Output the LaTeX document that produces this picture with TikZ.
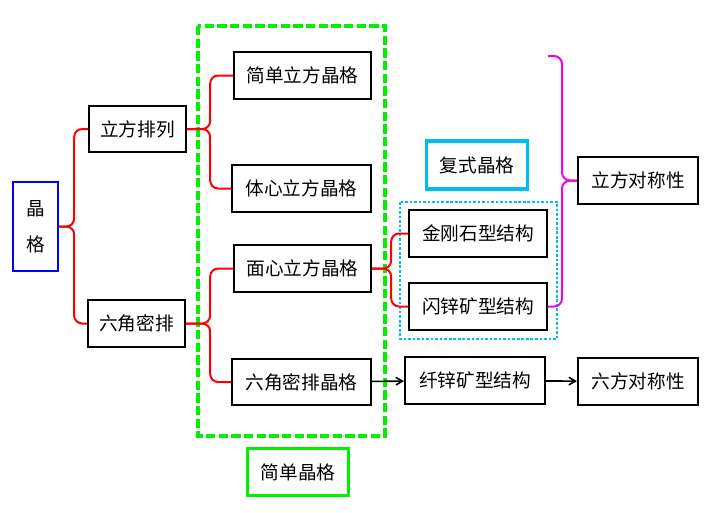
\documentclass[tikz,border=0pt]{standalone}
\usepackage{fontspec}
\setmainfont{Noto Sans CJK SC}
\usetikzlibrary{arrows}
\definecolor{cyanbox}{RGB}{0,190,240}
\definecolor{greenbox}{RGB}{0,240,0}
\definecolor{magline}{RGB}{240,0,240}

\tikzset{
  box/.style={draw, line width=1.5pt, minimum height=35pt, inner sep=0pt, font=\fontsize{14}{17}\selectfont},
  brace/.style={draw=red, line width=1.5pt, rounded corners=6pt},
  magbrace/.style={draw=magline, line width=1.5pt, rounded corners=6pt},
  link/.style={->, >=angle 60, line width=1.2pt},
}

\begin{document}
\begin{tikzpicture}[x=0.75pt,y=-0.75pt]
  \useasboundingbox (0,0) rectangle (712,512);

  % frames
  \draw[greenbox, line width=2.6pt, dash pattern=on 7pt off 2.5pt] (198,26) rectangle (385,436);
  \draw[cyanbox, line width=1.9pt, dash pattern=on 2pt off 1.4pt] (400,202) rectangle (557,339);

  \node[box, draw=blue, minimum width=34pt, minimum height=67pt, align=center] (jingge) at (35.5,226.5) {晶\\[10pt]格};
  \node[box, minimum width=73pt] (lifang) at (137.5,129) {立方排列};
  \node[box, minimum width=73pt] (liujiao) at (136.5,323.5) {六角密排};

  \node[box, minimum width=103pt] (jiandan) at (302.5,75.5) {简单立方晶格};
  \node[box, minimum width=104pt] (tixin) at (301.5,188.5) {体心立方晶格};
  \node[box, minimum width=103pt] (mianxin) at (302.5,268.5) {面心立方晶格};
  \node[box, minimum width=104pt] (liujiaojg) at (301.5,382) {六角密排晶格};
  \node[box, draw=greenbox, line width=2.4pt, minimum width=76pt] (jiandanjg) at (298,472) {简单晶格};

  \node[box, draw=cyanbox, line width=2.4pt, minimum width=76pt, minimum height=36pt] (fushi) at (477,165) {复式晶格};
  \node[box, minimum width=103pt] (jingang) at (478,233.5) {金刚石型结构};
  \node[box, minimum width=103pt] (shanxin) at (478,306.5) {闪锌矿型结构};
  \node[box, minimum width=105pt] (xianxin) at (475,380.5) {纤锌矿型结构};

  \node[box, minimum width=90pt] (lifangdc) at (638,180.5) {立方对称性};
  \node[box, minimum width=90pt] (liufangdc) at (638,381.5) {六方对称性};
  \coordinate (magtop) at (548,56);

  % braces
  \draw[brace] (jingge.east) -- ++(15,0) |- (lifang.west);
  \draw[brace] (jingge.east) -- ++(15,0) |- (liujiao.west);
  \draw[brace] (lifang.east) -- ++(23,0) |- (jiandan.west);
  \draw[brace] (lifang.east) -- ++(23,0) |- (tixin.west);
  \draw[brace] (liujiao.east) -- ++(24,0) |- (mianxin.west);
  \draw[brace] (liujiao.east) -- ++(24,0) |- (liujiaojg.west);
  \draw[brace] (mianxin.east) -- ++(19,0) |- (jingang.west);
  \draw[brace] (mianxin.east) -- ++(19,0) |- (shanxin.east -| jingang.west);
  \draw[magbrace] (lifangdc.west) -- ++(-15,0) |- (magtop);
  \draw[magbrace] (lifangdc.west) -- ++(-15,0) |- (shanxin.east);

  % arrows
  \draw[link] (liujiaojg) -- (xianxin);
  \draw[link] (xianxin) -- (liufangdc);
\end{tikzpicture}
\end{document}
